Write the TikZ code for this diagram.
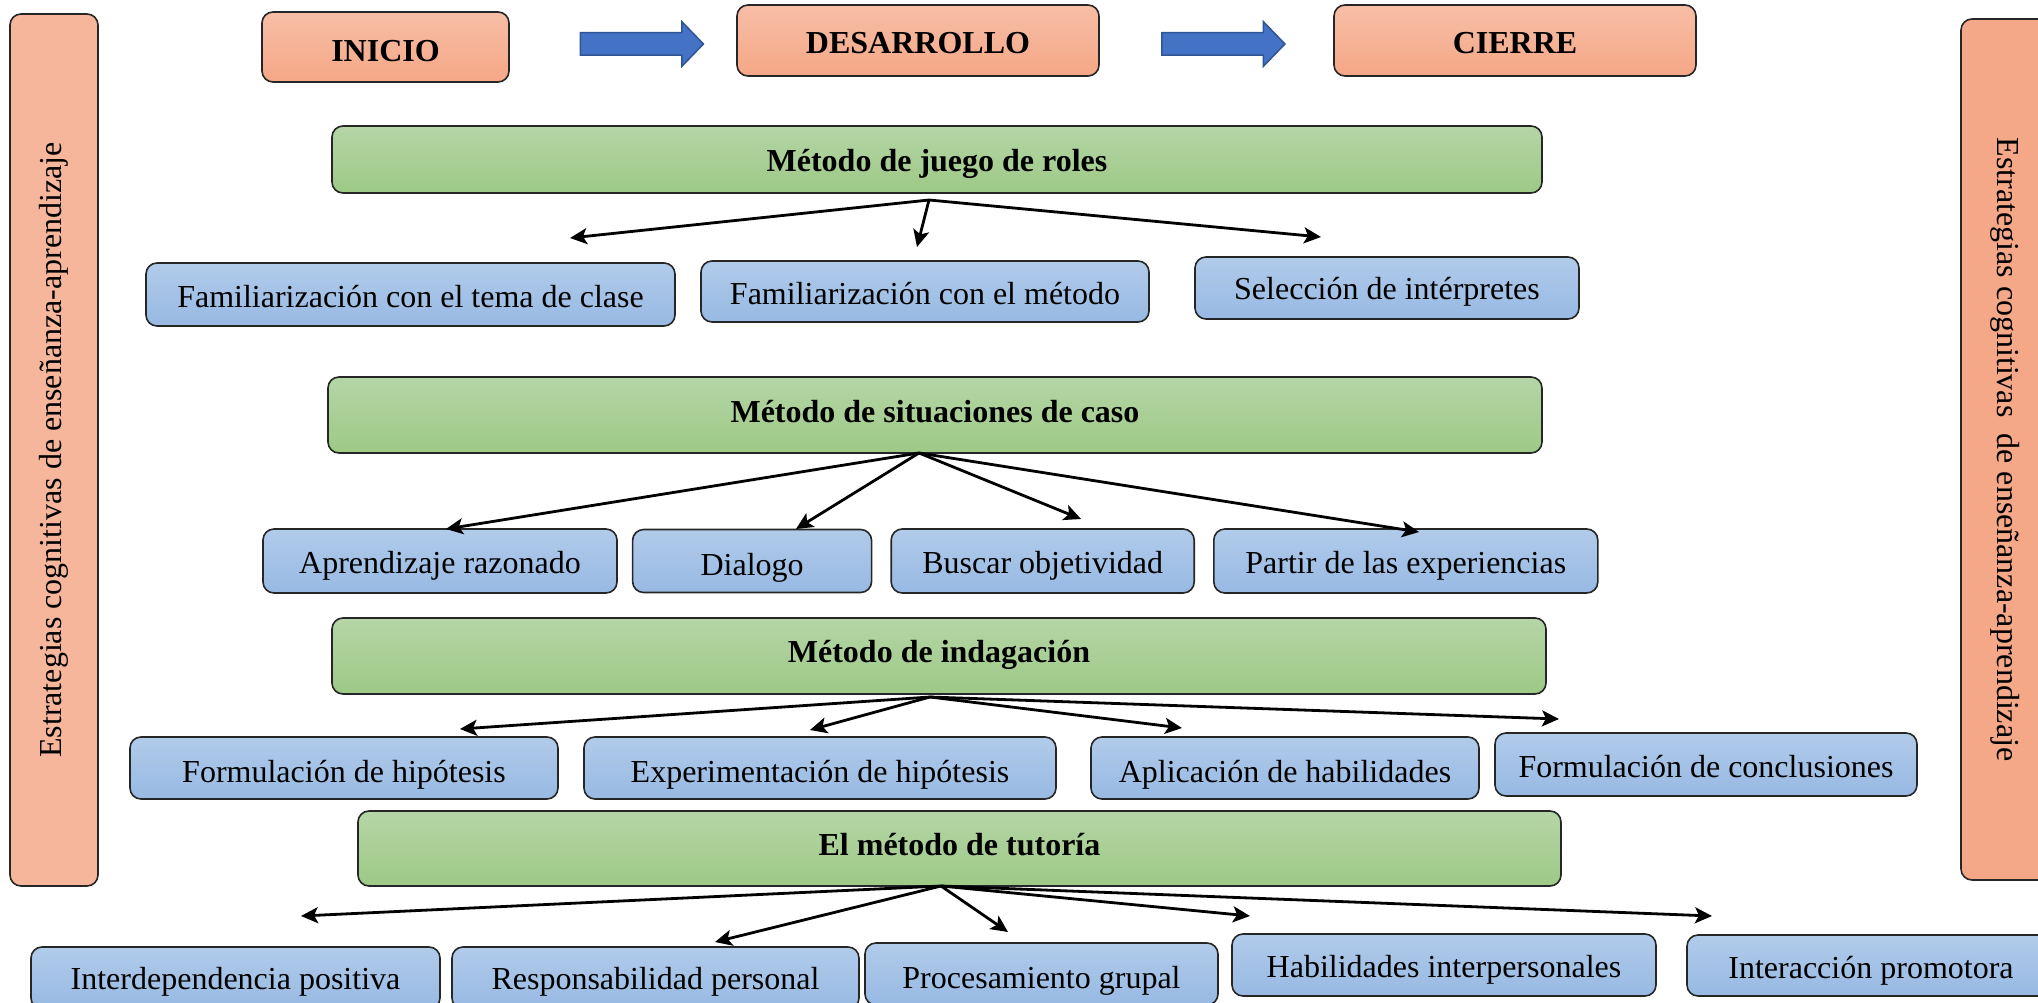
\documentclass[tikz,border=0pt]{standalone}
\usepackage{fontspec}
\setmainfont{Liberation Serif}
\usetikzlibrary{arrows.meta, positioning, shapes.arrows}

\definecolor{salmonTop}{RGB}{247,190,166}
\definecolor{salmonBot}{RGB}{245,167,134}
\definecolor{verdeTop}{RGB}{181,213,166}
\definecolor{verdeBot}{RGB}{157,201,134}
\definecolor{azulTop}{RGB}{177,203,234}
\definecolor{azulBot}{RGB}{151,185,227}
\definecolor{ladoIzq}{RGB}{246,182,156}
\definecolor{ladoDer}{RGB}{245,168,135}
\definecolor{flechaAzul}{RGB}{68,114,196}
\definecolor{flechaBorde}{RGB}{47,85,151}

\tikzset{
  >={Stealth[length=17pt,width=16pt,inset=4pt]},
  caja/.style={draw=black!85, line width=1.6pt, rounded corners=11pt, inner sep=0pt,
    font=\fontsize{32}{38}\selectfont},
  etapa/.style={caja, top color=salmonTop, bottom color=salmonBot,
    minimum height=71pt, text height=27pt, text depth=0pt,
    font=\bfseries\fontsize{32}{38}\selectfont},
  metodo/.style={caja, top color=verdeTop, bottom color=verdeBot,
    minimum height=76pt, text height=14pt, text depth=0pt,
    font=\bfseries\fontsize{32}{38}\selectfont},
  paso/.style={caja, top color=azulTop, bottom color=azulBot, minimum height=63pt,
    text height=26pt, text depth=0pt},
  lado/.style={caja, minimum height=88pt},
  bloque/.style={single arrow, single arrow head extend=11pt, single arrow tip angle=92,
    minimum height=123pt, inner xsep=0pt, inner ysep=10.5pt,
    fill=flechaAzul, draw=flechaBorde, line width=1.5pt},
  rama/.style={draw, ->, line width=2.8pt},
}

\begin{document}
\begin{tikzpicture}[x=1pt, y=-1pt]
  \useasboundingbox (0,0) rectangle (2038,1003);

  % columnas laterales
  \node[lado, fill=ladoIzq, rotate=90, minimum width=872pt]  (izq) at (54,450)
       {Estrategias cognitivas de enseñanza-aprendizaje};
  \node[lado, fill=ladoDer, rotate=-90, minimum width=861pt] (der) at (2005,449.5)
       {Estrategias cognitivas\ \ de enseñanza-aprendizaje};

  % etapas
  \node[etapa, minimum width=247pt, minimum height=70pt, text height=29pt] (inicio) at (385.5,47) {INICIO};
  \node[etapa, minimum width=362pt] (desarrollo) at (918,40.5) {DESARROLLO};
  \node[etapa, minimum width=362pt] (cierre)     at (1515,40.5) {CIERRE};
  \node[bloque] (flechaA) at (636.5,44) {};
  \node[bloque] (flechaB) at (1218,44) {};

  % juego de roles
  \node[metodo, minimum width=1210pt, minimum height=67pt, text height=25pt] (roles) at (937,159.5) {Método de juego de roles};
  \node[paso, minimum width=529pt, text height=25pt] (roles1) at (410.5,294.5) {Familiarización con el tema de clase};
  \node[paso, minimum width=448pt, minimum height=61pt, text height=27pt] (roles2) at (925,291.5) {Familiarización con el método};
  \node[paso, minimum width=384pt, minimum height=62pt, text height=23pt] (roles3) at (1387,288) {Selección de intérpretes};

  % situaciones de caso
  \node[metodo, minimum width=1214pt] (caso) at (935,415) {Método de situaciones de caso};
  \node[paso, minimum width=354pt, minimum height=64pt, text height=25pt] (caso1) at (440,561) {Aprendizaje razonado};
  \node[paso, minimum width=239pt, text height=28pt, right=14pt of caso1] (caso2) {Dialogo};
  \node[paso, minimum width=303pt, minimum height=64pt, text height=25pt, right=18pt of caso2] (caso3) {Buscar objetividad};
  \node[paso, minimum width=384pt, minimum height=64pt, text height=25pt, right=18pt of caso3] (caso4) {Partir de las experiencias};

  % indagacion
  \node[metodo, minimum width=1214pt, text height=13pt] (indaga) at (939,656) {Método de indagación};
  \node[paso, minimum width=428pt, minimum height=62pt, text height=28pt] (indaga1) at (344,768) {Formulación de hipótesis};
  \node[paso, minimum width=472pt, minimum height=62pt, text height=28pt] (indaga2) at (820,768) {Experimentación de hipótesis};
  \node[paso, minimum width=388pt, minimum height=62pt, text height=28pt] (indaga3) at (1285,768) {Aplicación de habilidades};
  \node[paso, minimum width=422pt, text height=25pt] (indaga4) at (1706,764.5) {Formulación de conclusiones};

  % tutoria
  \node[metodo, minimum width=1203pt, minimum height=75pt] (tutor) at (959.5,848.5) {El método de tutoría};
  \node[paso, minimum width=409pt, minimum height=62pt, text height=23pt] (tutor1) at (235.5,978) {Interdependencia positiva};
  \node[paso, minimum width=407pt, minimum height=62pt, text height=23pt] (tutor2) at (655.5,978) {Responsabilidad personal};
  \node[paso, minimum width=353pt, minimum height=62pt, text height=28pt] (tutor3) at (1041.5,974) {Procesamiento grupal};
  \node[paso, minimum width=424pt, minimum height=62pt, text height=25pt] (tutor4) at (1444,965) {Habilidades interpersonales};
  \node[paso, minimum width=368pt, minimum height=61pt, text height=25pt] (tutor5) at (1871,965.5) {Interacción promotora};

  % puntos de salida y llegada
  \coordinate (roles0)  at (929,200);
  \coordinate (rolesA)  at (570,238);
  \coordinate (rolesB)  at (917,247);
  \coordinate (rolesC)  at (1321,237);
  \coordinate (caso0)   at (919,453);
  \coordinate (casoA)   at (446,529);
  \coordinate (casoB)   at (796,529);
  \coordinate (casoC)   at (1081,519);
  \coordinate (casoD)   at (1419,532);
  \coordinate (indaga0) at (930,697);
  \coordinate (indagaA) at (460,729);
  \coordinate (indagaB) at (810,730);
  \coordinate (indagaC) at (1182,728);
  \coordinate (indagaD) at (1559,719);
  \coordinate (tutor0)  at (941,886);
  \coordinate (tutorA)  at (301,916);
  \coordinate (tutorB)  at (715,942);
  \coordinate (tutorC)  at (1008,932);
  \coordinate (tutorD)  at (1250,916);
  \coordinate (tutorE)  at (1712,916);

  \path (roles0) edge[rama] (rolesA) edge[rama] (rolesB) edge[rama] (rolesC);
  \path (caso0) edge[rama] (casoA) edge[rama] (casoB) edge[rama] (casoC) edge[rama] (casoD);
  \path (indaga0) edge[rama] (indagaA) edge[rama] (indagaB) edge[rama] (indagaC) edge[rama] (indagaD);
  \path (tutor0) edge[rama] (tutorA) edge[rama] (tutorB) edge[rama] (tutorC)
                 edge[rama] (tutorD) edge[rama] (tutorE);
\end{tikzpicture}
\end{document}
